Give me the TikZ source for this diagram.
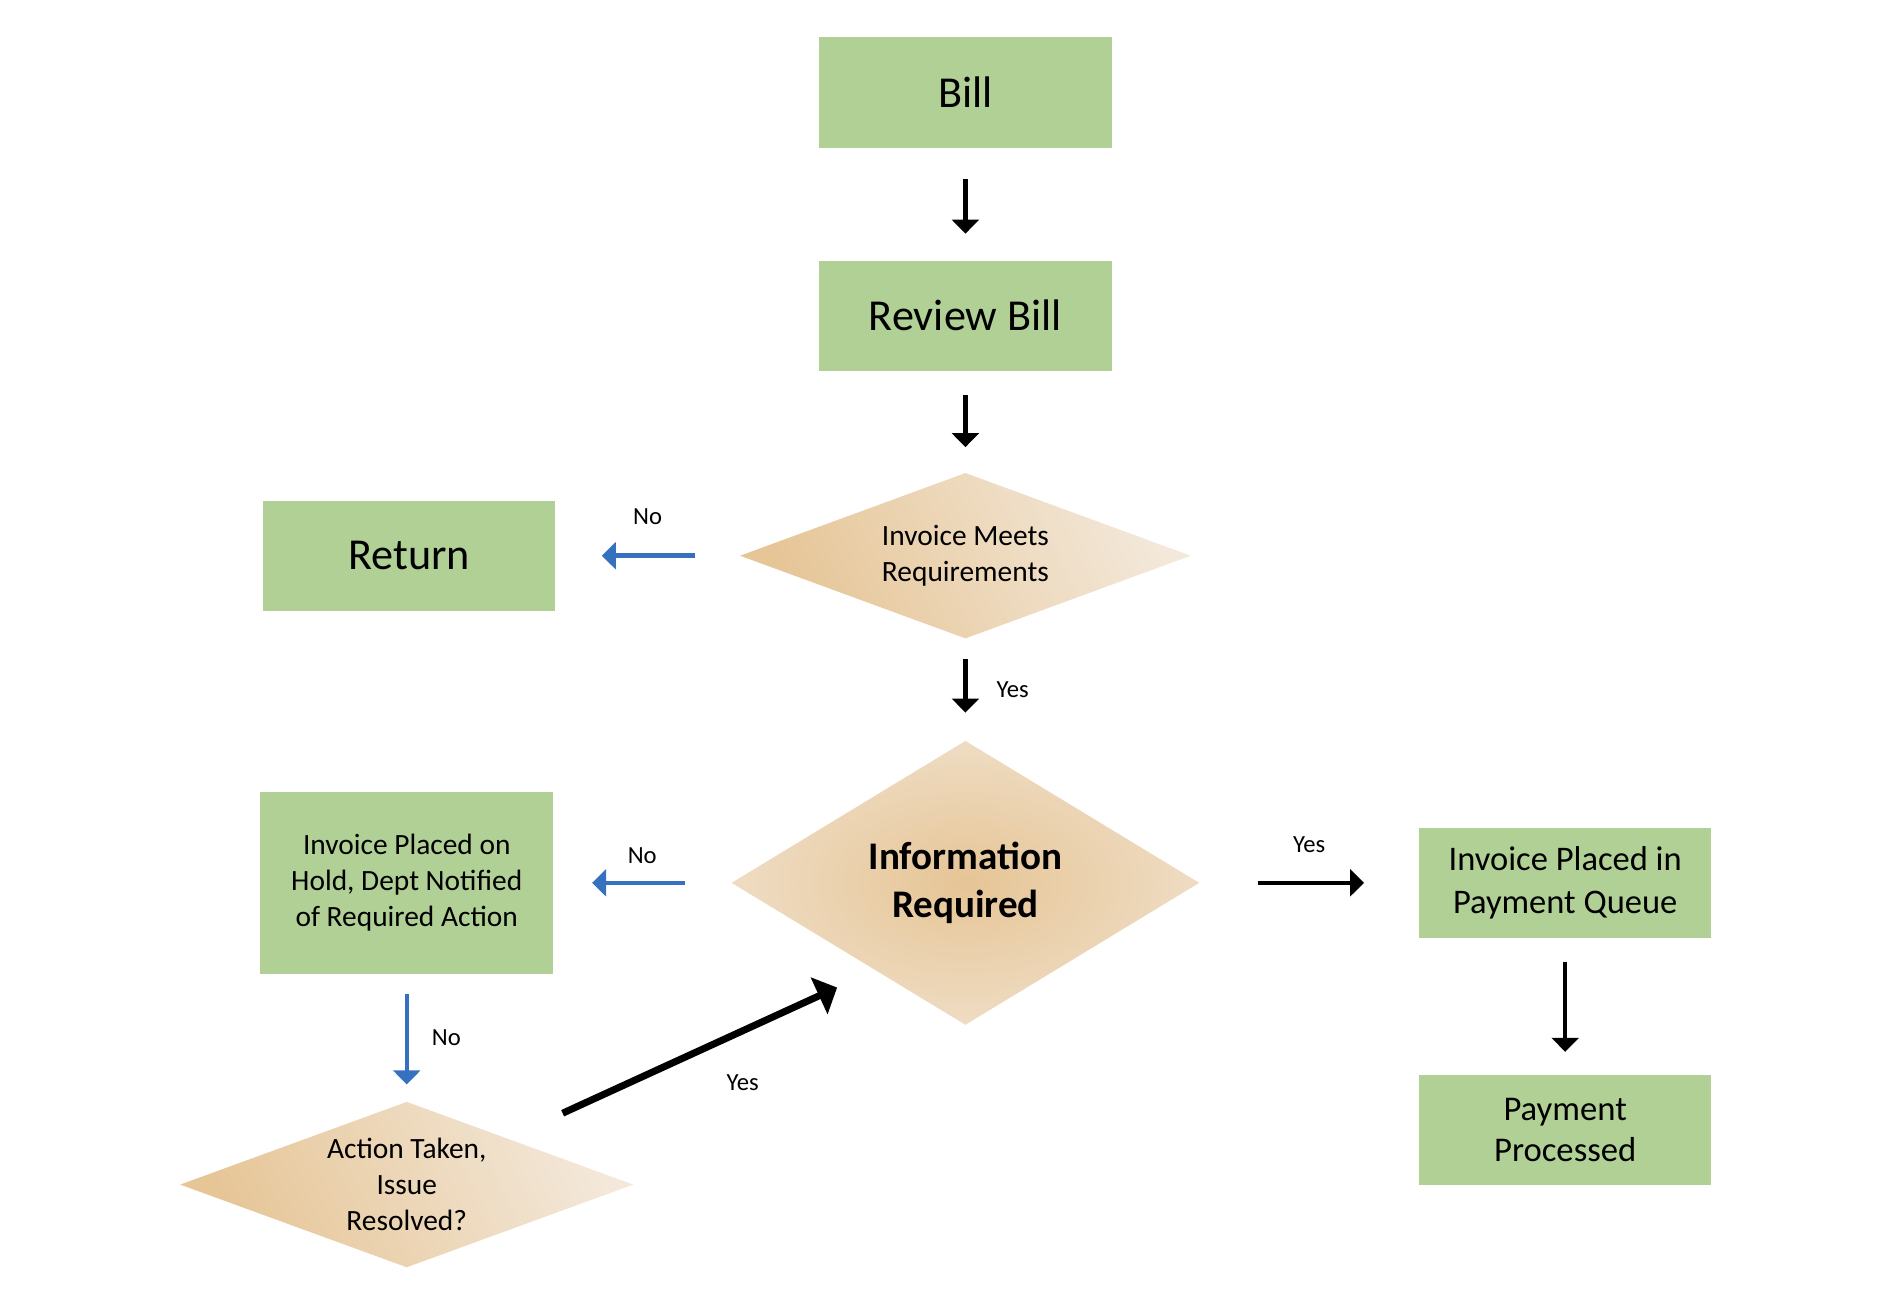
\documentclass[tikz,border=0pt]{standalone}
\usepackage{fontspec}
\setmainfont{Carlito}
\usetikzlibrary{positioning, shapes.geometric, arrows.meta}
\definecolor{boxgreen}{HTML}{B1D095}
\definecolor{tandark}{HTML}{E6C596}
\definecolor{tanlight}{HTML}{F3E8DA}
\definecolor{noblue}{HTML}{3571BE}
\pgfdeclareradialshading{tanglow}{\pgfpoint{0bp}{0bp}}{color(0bp)=(tandark); color(38bp)=(tanlight); color(50bp)=(tanlight)}

\begin{document}
\begin{tikzpicture}[x=0.25mm, y=-0.25mm, node distance = 20mm and 40mm,
    greenbox/.style={fill=boxgreen, minimum width=60.5mm, minimum height=22.75mm, align=center, inner sep=0pt},
    bigtext/.style={font=\fontsize{26}{31}\selectfont},
    choice/.style={diamond, inner sep=0pt, align=center, font=\fontsize{17.3}{21.2}\selectfont},
    flow/.style={line width=0.93mm, -{Triangle[width=5.5mm,length=2.9mm]}},
    noflow/.style={flow, noblue},
    tag/.style={inner sep=0pt, text=black, font=\fontsize{14.5}{17}\selectfont}]
    \useasboundingbox (0,0) rectangle (1568.2,1071.9);
    % main column
    \node (bill) [greenbox, bigtext] at (798.5,76.5) {Bill};
    \node (review) [greenbox, bigtext, below=23.25mm of bill] {Review Bill};
    \node (meets) [choice, below=21mm of review, minimum width=93.25mm, minimum height=34.25mm, shape aspect=2.7,
        top color=tandark, bottom color=tanlight, shading angle=115] {Invoice Meets\\Requirements};
    \node (info) [choice, below=21mm of meets, minimum width=96.75mm, minimum height=58.75mm, shape aspect=1.65,
        shade, shading=tanglow, font=\bfseries\fontsize{23}{27.7}\selectfont] {Information\\Required};
    % left side
    \node (ret) [greenbox, bigtext, left=38mm of meets] {Return};
    \node (hold) [greenbox, minimum height=37.75mm, left=36.75mm of info, font=\fontsize{17.3}{21}\selectfont]
        {Invoice Placed on\\Hold, Dept Notified\\of Required Action};
    \node (resolved) [choice, below=26.25mm of hold, minimum width=93.75mm, minimum height=34.25mm, shape aspect=2.7,
        top color=tandark, bottom color=tanlight, shading angle=115] {Action Taken,\\Issue\\Resolved?};
    % right side
    \node (queue) [greenbox, right=45.25mm of info, font=\fontsize{20.3}{24.9}\selectfont] {Invoice Placed in\\Payment Queue};
    \node (paid) [greenbox, below=28.25mm of queue, font=\fontsize{20.4}{24.2}\selectfont] {Payment\\Processed};
    % arrows
    \draw[flow, shorten <=6.5mm, shorten >=5.5mm] (bill) -- (review);
    \draw[flow, shorten <=5mm, shorten >=5.25mm] (review) -- (meets);
    \draw[flow, shorten <=4.25mm, shorten >=5.75mm] (meets) -- node[tag, right=6mm] {Yes} (info);
    \draw[noflow, shorten <=9.25mm, shorten >=9.5mm] (meets) -- node[tag, above=6mm] {No} (ret);
    \draw[noflow, shorten <=9.5mm, shorten >=8mm] (info) -- node[tag, above=3.5mm] {No} (hold);
    \draw[flow, shorten <=12mm, shorten >=11.25mm] (info) -- node[tag, above=5.8mm] {Yes} (queue);
    \draw[flow, shorten <=5mm, shorten >=4.75mm] (queue) -- (paid);
    \draw[noflow, shorten <=4mm, shorten >=3.5mm] (hold) -- node[tag, right=4.75mm] {No} (resolved);
    \draw[flow, line width=1.45mm, -{Triangle[width=8.2mm,length=4.1mm]}, shorten <=12.5mm, shorten >=8.6mm]
        (resolved) -- node[tag, pos=0.64, below=8.4mm] {Yes} (info.224);
\end{tikzpicture}
\end{document}
